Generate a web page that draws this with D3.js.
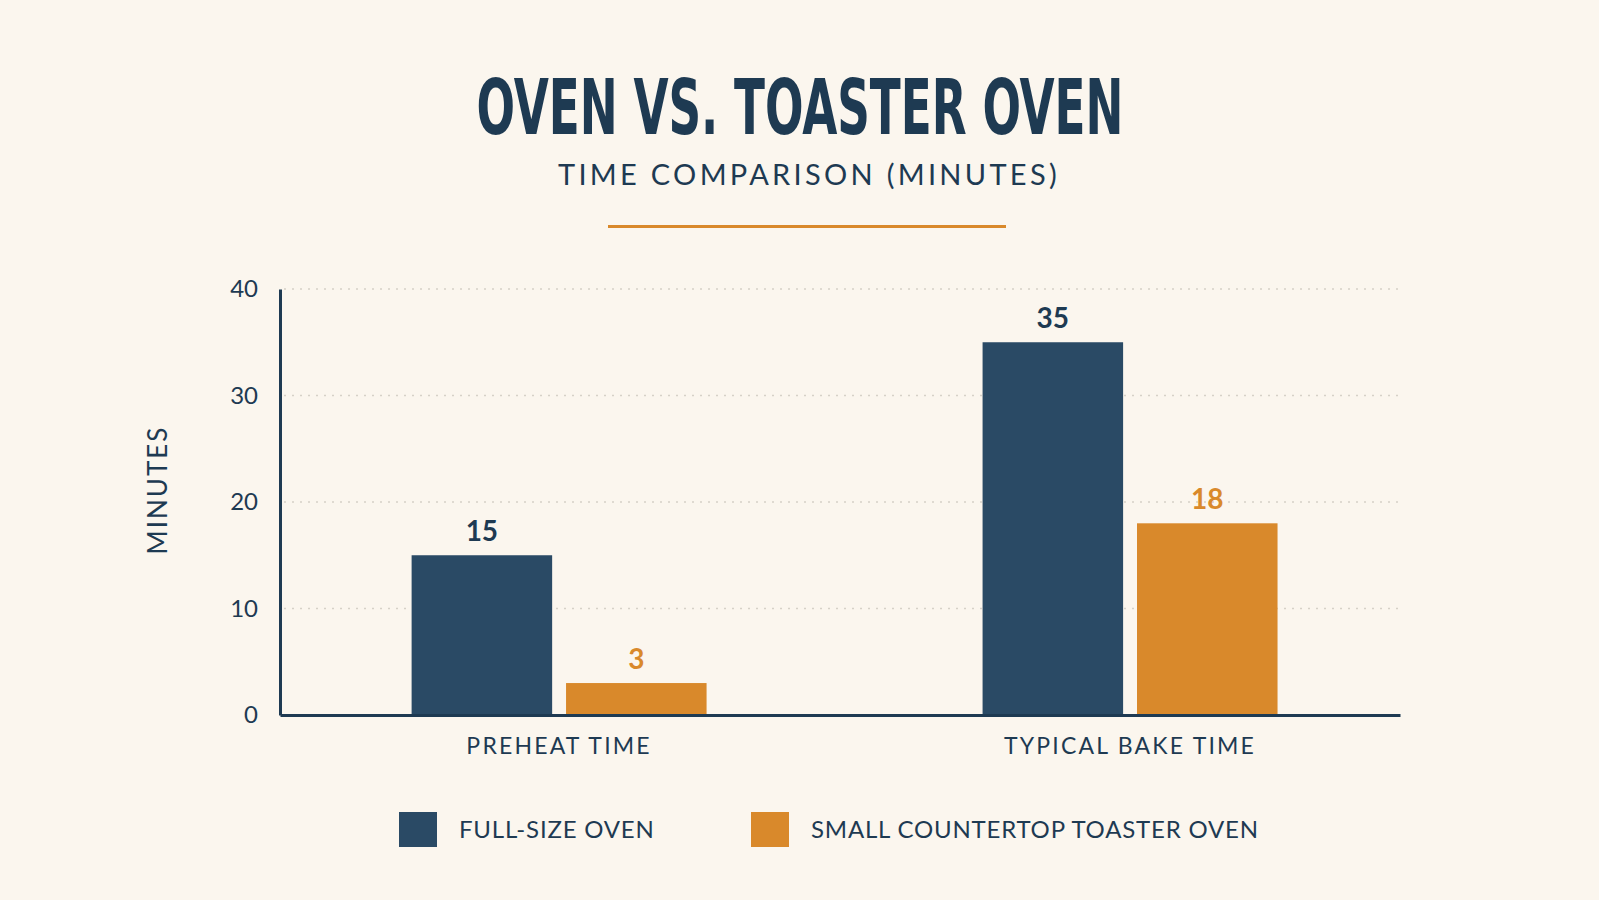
<!DOCTYPE html>
<html>
<head>
<meta charset="utf-8">
<script src="https://cdn.jsdelivr.net/npm/d3@7"></script>
<style>
  html, body { margin: 0; padding: 0; background: #FBF6EE; }
  svg { display: block; }
</style>
</head>
<body>
<svg id="chart" width="1599" height="900"></svg>
<script>
const categories = ["PREHEAT TIME", "TYPICAL BAKE TIME"];
const seriesNames = ["FULL-SIZE OVEN", "SMALL COUNTERTOP TOASTER OVEN"];
const fullSizeOven = [15, 35];
const toasterOven = [3, 18];
const yTicks = [0, 10, 20, 30, 40];
const titleText = "OVEN VS. TOASTER OVEN";
const subtitleText = "TIME COMPARISON (MINUTES)";
const yAxisLabel = "MINUTES";

const navy = "#1E3A52";
const barNavy = "#2A4A65";
const orange = "#D9892B";
const font = "Lato, 'Open Sans', sans-serif";

const svg = d3.select("#chart");
svg.append("rect").attr("width", 1599).attr("height", 900).attr("fill", "#FBF6EE");

// Title
svg.append("text")
  .attr("x", 800).attr("y", 134)
  .attr("text-anchor", "middle")
  .attr("font-family", "'Liberation Sans Narrow', 'DejaVu Sans Condensed', sans-serif")
  .attr("font-weight", "bold")
  .attr("font-size", 76)
  .attr("fill", navy)
  .attr("textLength", 647)
  .attr("lengthAdjust", "spacingAndGlyphs")
  .text(titleText);

svg.append("text")
  .attr("x", 809).attr("y", 185)
  .attr("text-anchor", "middle")
  .attr("font-family", font)
  .attr("font-size", 29)
  .attr("letter-spacing", 3.3)
  .attr("fill", navy)
  .text(subtitleText);

svg.append("line")
  .attr("x1", 608).attr("x2", 1006)
  .attr("y1", 226.5).attr("y2", 226.5)
  .attr("stroke", orange).attr("stroke-width", 3);

// Scales
const plotLeft = 280, plotRight = 1400, plotTop = 289, plotBottom = 715;
const y = d3.scaleLinear().domain([0, 40]).range([plotBottom, plotTop]);
const x0 = d3.scaleBand().domain(categories).range([plotLeft, plotRight])
  .paddingInner(0.4834).paddingOuter(0.2225).align(0.518);
const x1 = d3.scaleBand().domain(seriesNames).range([0, x0.bandwidth()]).paddingInner(0.09);
const color = d3.scaleOrdinal().domain(seriesNames).range([barNavy, orange]);

// Gridlines
svg.append("g")
  .selectAll("line")
  .data(yTicks.filter(d => d > 0))
  .join("line")
  .attr("x1", plotLeft + 4).attr("x2", plotRight)
  .attr("y1", d => y(d)).attr("y2", d => y(d))
  .attr("stroke", "#D6D1C8")
  .attr("stroke-width", 1.5)
  .attr("stroke-dasharray", "2,6");

// Bars
const rows = categories.map((c, i) => ({
  category: c,
  values: [
    { series: seriesNames[0], value: fullSizeOven[i] },
    { series: seriesNames[1], value: toasterOven[i] }
  ]
}));

const groups = svg.append("g").selectAll("g")
  .data(rows).join("g")
  .attr("transform", d => `translate(${x0(d.category)},0)`);

groups.selectAll("rect")
  .data(d => d.values).join("rect")
  .attr("x", d => x1(d.series))
  .attr("width", x1.bandwidth())
  .attr("y", d => y(d.value))
  .attr("height", d => y(0) - y(d.value))
  .attr("fill", d => color(d.series));

groups.selectAll("text.val")
  .data(d => d.values).join("text")
  .attr("class", "val")
  .attr("x", d => x1(d.series) + x1.bandwidth() / 2)
  .attr("y", d => y(d.value) - 14)
  .attr("text-anchor", "middle")
  .attr("font-family", font)
  .attr("font-weight", "bold")
  .attr("font-size", 28)
  .attr("fill", d => d.series === seriesNames[0] ? navy : orange)
  .text(d => d.value);

// Y axis
const yAxis = svg.append("g")
  .attr("transform", `translate(${plotLeft},0)`)
  .call(d3.axisLeft(y).tickValues(yTicks).tickSize(0).tickPadding(22));
yAxis.select(".domain").attr("stroke", navy).attr("stroke-width", 3);
yAxis.selectAll("text")
  .attr("font-family", font)
  .attr("font-size", 24)
  .attr("fill", navy);

// X axis
const xAxis = svg.append("g")
  .attr("transform", `translate(0,${plotBottom})`)
  .call(d3.axisBottom(x0).tickSize(0).tickPadding(23));
xAxis.select(".domain").attr("stroke", navy).attr("stroke-width", 3);
xAxis.selectAll("text")
  .attr("font-family", font)
  .attr("font-size", 23)
  .attr("letter-spacing", 2.2)
  .attr("fill", navy);

// Y label
svg.append("text")
  .attr("transform", "translate(167,490) rotate(-90)")
  .attr("text-anchor", "middle")
  .attr("font-family", font)
  .attr("font-size", 26)
  .attr("letter-spacing", 2)
  .attr("fill", navy)
  .text(yAxisLabel);

// Legend
const legendX = [399, 751];
const legend = svg.append("g").selectAll("g")
  .data(seriesNames).join("g")
  .attr("transform", (d, i) => `translate(${legendX[i]},812)`);
legend.append("rect")
  .attr("width", 38).attr("height", 35)
  .attr("fill", d => color(d));
legend.append("text")
  .attr("x", 60).attr("y", 26)
  .attr("font-family", font)
  .attr("font-size", 24)
  .attr("letter-spacing", 0.8)
  .attr("fill", navy)
  .text(d => d);
</script>
</body>
</html>
